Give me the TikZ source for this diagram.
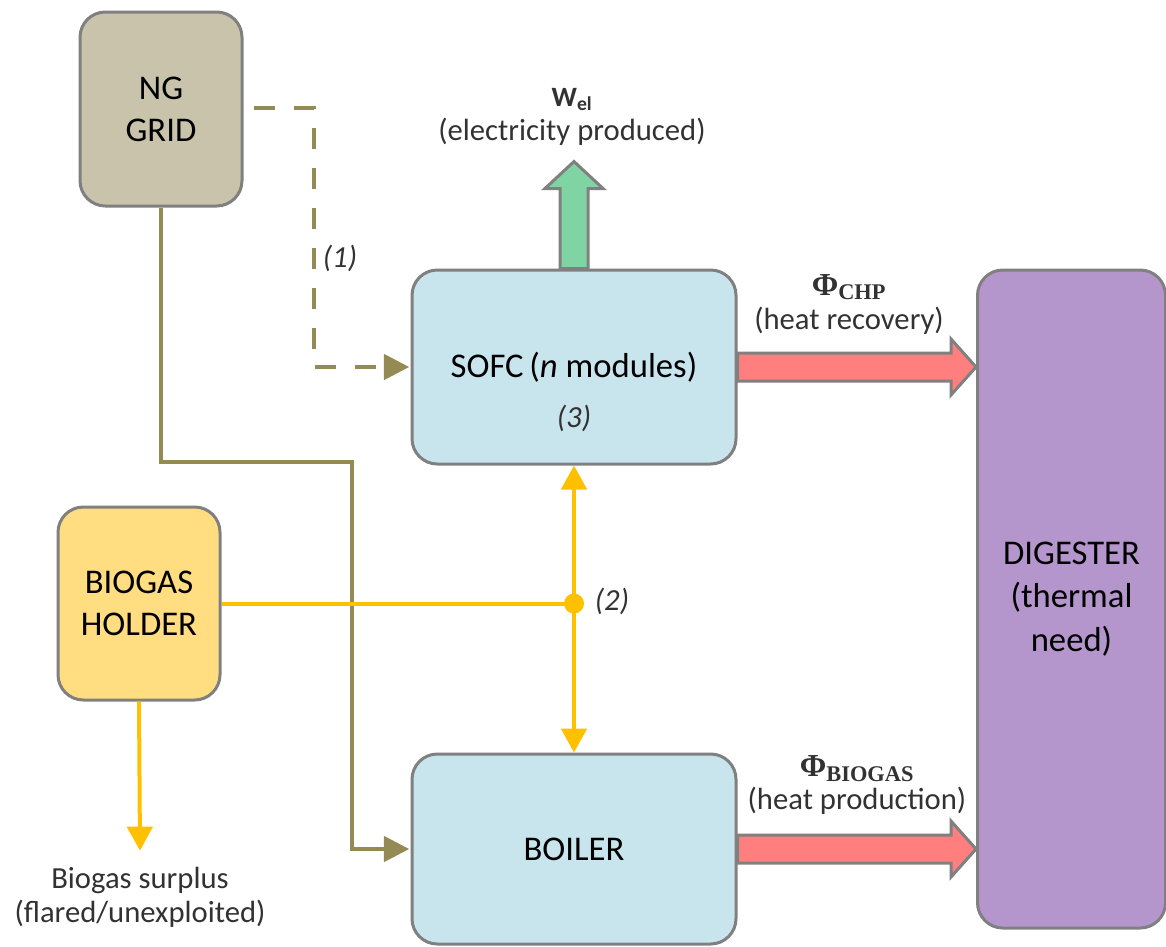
\documentclass[tikz,border=0pt]{standalone}
\usepackage{fontspec}
\setmainfont{Carlito}
\newfontfamily\phifont{Liberation Serif}
\usetikzlibrary{arrows.meta,calc}
\definecolor{bordergray}{RGB}{128,128,128}
\definecolor{labelgray}{RGB}{50,50,50}
\definecolor{ngtan}{RGB}{201,195,171}
\definecolor{lightblue}{RGB}{200,228,236}
\definecolor{holderyellow}{RGB}{255,221,128}
\definecolor{digpurple}{RGB}{180,150,205}
\definecolor{greenfill}{RGB}{128,212,164}
\definecolor{redfill}{RGB}{255,127,127}
\definecolor{olivec}{RGB}{148,138,84}
\definecolor{gasyellow}{RGB}{255,192,0}
\tikzset{
  box/.style={draw=bordergray, line width=2.25pt, rounded corners=19pt, align=center,
    text=black, font=\fontsize{26}{31.5}\selectfont, inner sep=0pt},
  lbl/.style={text=labelgray, align=center, font=\fontsize{23}{25.5}\selectfont, inner sep=0pt},
  itl/.style={lbl, font=\fontsize{23}{25.5}\selectfont\itshape},
  blockarrow/.style={draw=bordergray, line width=2.25pt, line join=miter},
  oliveline/.style={draw=olivec, line width=3pt, -{Triangle[length=19pt,width=19pt]}},
  gasline/.style={draw=gasyellow, line width=3pt},
  gasarrow/.style={gasline, -{Triangle[length=18pt,width=19pt]}},
}
\begin{document}
\begin{tikzpicture}[x=0.75pt,y=-0.75pt]
\useasboundingbox (0,0) rectangle (1166,946);

% boxes
\node[box, fill=ngtan, minimum width=121.5pt, minimum height=145.5pt] (ng) at (161,109) {NG\\GRID};
\node[box, fill=lightblue, minimum width=243pt, minimum height=145.5pt] (sofc) at (574,367) {SOFC\,(\textit{n} modules)};
\node[box, fill=lightblue, minimum width=243pt, minimum height=142.5pt] (boiler) at (574,849) {BOILER};
\node[box, fill=holderyellow, minimum width=121.5pt, minimum height=144.75pt] (bh) at (139,603.5) {BIOGAS\\HOLDER};
\node[box, fill=digpurple, minimum width=141pt, minimum height=493.5pt, font=\fontsize{26}{32.5}\selectfont] (dig) at (1071.5,599) {DIGESTER\\(thermal\\need)};

% labels
\node[itl] (l3) at ($(sofc.center)+(0,51)$) {(3)};
\node[itl] (l1) at (340,258) {(1)};
\node[itl] (l2) at (612,601) {(2)};
\node[lbl] (wel) at (572,117) {{\fontsize{21}{21}\selectfont\bfseries W\textsubscript{el}}\\(electricity produced)};
\node[lbl] (chp) at (849,304) {{\phifont\bfseries\fontsize{24}{24}\selectfont Φ\textsubscript{CHP}}\\(heat recovery)};
\node[lbl] (bio) at (857,785) {{\phifont\bfseries\fontsize{24}{24}\selectfont Φ\textsubscript{BIOGAS}}\\[-1pt](heat production)};
\node[lbl] (surplus) at (140,897) {Biogas surplus\\(flared/unexploited)};

% green electricity arrow
\draw[blockarrow, fill=greenfill]
  ($(sofc.north)+(-14,0)$) -- ($(sofc.north)+(-14,-80)$) -- ($(sofc.north)+(-29,-80)$)
  -- ($(sofc.north)+(0,-107)$) -- ($(sofc.north)+(29,-80)$) -- ($(sofc.north)+(14,-80)$)
  -- ($(sofc.north)+(14,0)$) -- cycle;

% red heat arrows
\coordinate (t1) at (dig.west |- sofc.east);
\draw[blockarrow, fill=redfill]
  ($(sofc.east)+(0,-14)$) -- ($(t1)+(-25,-14)$) -- ($(t1)+(-25,-28)$) -- (t1)
  -- ($(t1)+(-25,28)$) -- ($(t1)+(-25,14)$) -- ($(sofc.east)+(0,14)$) -- cycle;
\coordinate (t2) at (dig.west |- boiler.east);
\draw[blockarrow, fill=redfill]
  ($(boiler.east)+(0,-14)$) -- ($(t2)+(-25,-14)$) -- ($(t2)+(-25,-28)$) -- (t2)
  -- ($(t2)+(-25,28)$) -- ($(t2)+(-25,14)$) -- ($(boiler.east)+(0,14)$) -- cycle;

% olive NG lines
\coordinate (ngout) at ($(ng.east)+(10,-1)$);
\draw[oliveline, dash pattern=on 16pt off 14pt, shorten >=1pt] (ngout) -- ++(60,0) |- (sofc.west);
\coordinate (bend) at (352,462);
\draw[oliveline, shorten >=1pt] (ng.south) |- (bend) |- (boiler.west);

% yellow biogas lines
\coordinate (j) at (sofc.south |- bh.east);
\draw[gasline] (bh.east) -- (j);
\draw[gasarrow] (j) -- (sofc.south);
\draw[gasarrow] (j) -- (boiler.north);
\fill[gasyellow] (j) circle[radius=7.5pt];
\draw[gasarrow] (bh.south) -- ($(surplus.north)+(0,-16)$);
\end{tikzpicture}
\end{document}
